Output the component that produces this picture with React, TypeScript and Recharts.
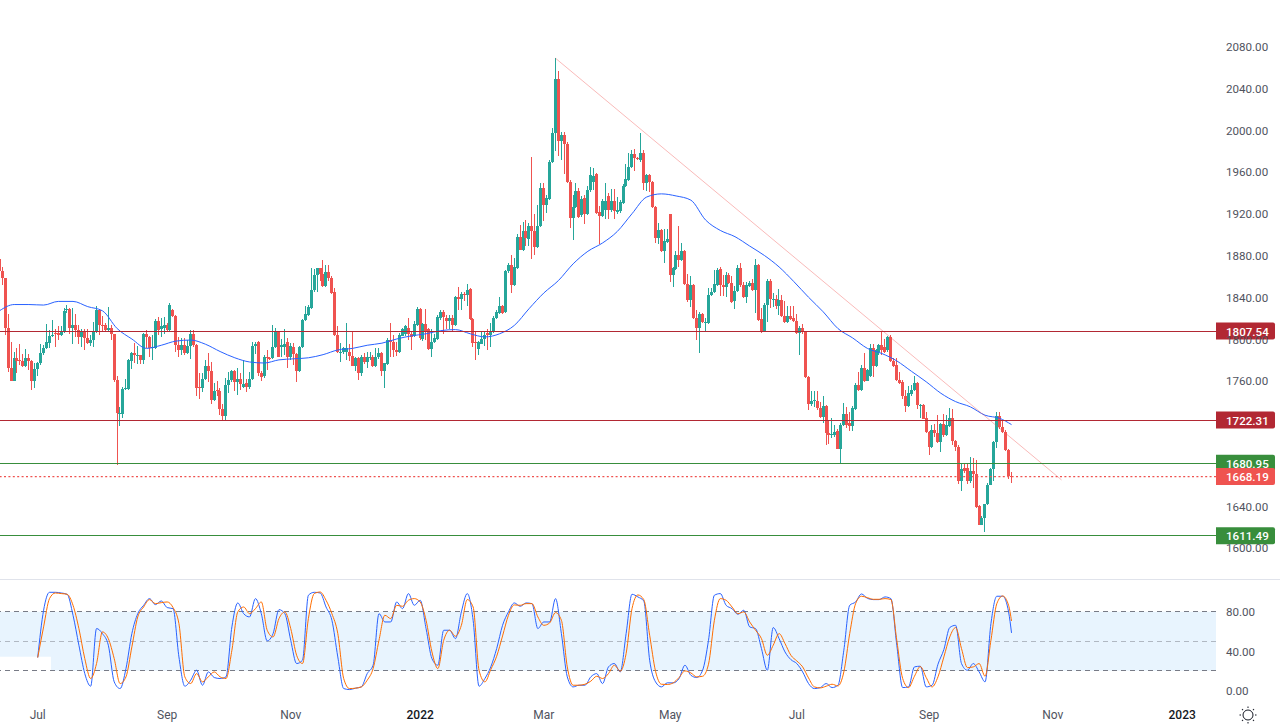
import { Bar, ComposedChart, Line, ReferenceArea, ReferenceLine, XAxis, YAxis } from "recharts";

// daily candles
const opens = [
  1877,1865,1858,1811,1772,1760,1782,1780,1779,1774,
  1782,1779,1760,1771,1777,1787,1791,1796,1803,1806,
  1806,1804,1807,1828,1829,1811,1813,1809,1802,1807,
  1801,1796,1799,1807,1828,1813,1813,1809,1811,1805,
  1761,1729,1728,1752,1752,1779,1787,1785,1785,1780,
  1805,1802,1791,1791,1817,1810,1811,1813,1809,1828,
  1822,1794,1789,1794,1787,1793,1805,1794,1754,1753,
  1762,1774,1769,1742,1751,1750,1733,1726,1756,1761,
  1769,1759,1762,1754,1758,1754,1762,1793,1797,1767,
  1765,1783,1782,1782,1792,1807,1792,1792,1797,1783,
  1792,1786,1769,1792,1818,1823,1830,1847,1861,1868,
  1862,1851,1864,1858,1845,1804,1788,1788,1788,1788,
  1784,1774,1782,1767,1783,1778,1783,1783,1774,1783,
  1787,1769,1776,1799,1797,1789,1788,1803,1805,1811,
  1805,1803,1813,1829,1800,1814,1810,1790,1797,1800,
  1820,1826,1820,1817,1820,1813,1840,1838,1843,1842,
  1848,1819,1797,1790,1795,1800,1806,1804,1807,1820,
  1825,1832,1826,1865,1871,1852,1868,1898,1885,1903,
  1896,1908,1903,1888,1908,1945,1928,1934,1970,1997,
  2049,1990,1995,1987,1950,1916,1926,1942,1919,1935,
  1920,1943,1950,1958,1922,1918,1924,1937,1924,1932,
  1922,1923,1930,1947,1952,1965,1977,1973,1971,1978,
  1949,1957,1950,1926,1897,1904,1884,1893,1920,1861,
  1867,1880,1876,1884,1853,1837,1852,1820,1811,1824,
  1815,1815,1842,1845,1852,1867,1852,1850,1861,1854,
  1836,1846,1868,1852,1840,1851,1854,1847,1871,1819,
  1808,1833,1856,1838,1838,1832,1837,1822,1816,1822,
  1820,1817,1806,1811,1807,1764,1738,1741,1741,1734,
  1725,1736,1710,1708,1708,1712,1695,1718,1728,1720,
  1717,1733,1756,1751,1772,1760,1765,1791,1774,1788,
  1794,1792,1789,1802,1779,1775,1761,1759,1745,1736,
  1747,1751,1758,1737,1737,1724,1711,1697,1713,1710,
  1701,1719,1708,1717,1724,1702,1697,1664,1676,1676,
  1664,1674,1671,1640,1622,1629,1642,1660,1675,1701,
  1726,1716,1711,1694,1668.5,
];
const highs = [
  1877,1869,1858,1824,1797,1788,1791,1795,1786,1790,
  1786,1780,1777,1778,1795,1794,1814,1809,1818,1810,
  1812,1812,1830,1833,1830,1830,1824,1813,1810,1810,
  1810,1804,1816,1832,1829,1822,1815,1831,1813,1805,
  1765,1735,1754,1762,1781,1788,1796,1793,1785,1806,
  1809,1803,1804,1819,1821,1820,1821,1815,1834,1829,
  1823,1802,1801,1801,1799,1809,1809,1795,1767,1767,
  1780,1787,1778,1758,1760,1753,1738,1763,1768,1770,
  1770,1772,1767,1780,1762,1768,1797,1797,1798,1769,
  1785,1789,1783,1813,1811,1808,1800,1810,1801,1796,
  1796,1787,1793,1819,1832,1833,1868,1867,1868,1868,
  1876,1871,1871,1860,1849,1812,1796,1792,1815,1795,
  1808,1783,1783,1785,1787,1788,1788,1785,1791,1791,
  1788,1777,1801,1815,1804,1797,1806,1811,1813,1820,
  1807,1817,1831,1830,1815,1829,1811,1810,1805,1823,
  1828,1828,1823,1823,1823,1841,1850,1845,1845,1853,
  1849,1820,1807,1798,1808,1807,1810,1815,1822,1828,
  1840,1833,1866,1873,1880,1878,1901,1909,1912,1914,
  1911,1974,1920,1928,1949,1949,1938,1971,2002,2069,
  2057,1998,1998,1989,1952,1938,1949,1945,1937,1938,
  1947,1965,1964,1959,1927,1934,1949,1940,1944,1944,
  1936,1933,1948,1968,1978,1981,1982,1974,1997,1981,
  1958,1958,1951,1927,1911,1905,1905,1905,1920,1869,
  1884,1908,1892,1885,1862,1860,1853,1828,1826,1825,
  1820,1849,1849,1866,1868,1869,1861,1864,1863,1860,
  1851,1871,1873,1855,1855,1856,1857,1877,1872,1830,
  1834,1857,1857,1844,1842,1848,1842,1836,1832,1832,
  1832,1824,1812,1814,1808,1765,1750,1750,1750,1740,
  1745,1737,1721,1724,1718,1714,1720,1739,1735,1730,
  1736,1758,1768,1775,1787,1771,1795,1795,1790,1795,
  1807,1800,1803,1804,1782,1782,1768,1761,1751,1755,
  1756,1765,1759,1738,1738,1730,1712,1718,1719,1727,
  1720,1728,1727,1734,1733,1703,1698,1680,1681,1680,
  1687,1686,1684,1641,1630,1642,1662,1676,1702,1730,
  1730,1722,1713,1695,1673,
];
const lows = [
  1865,1852,1804,1768,1760,1760,1767,1775,1773,1773,
  1770,1751,1753,1765,1775,1785,1790,1791,1802,1792,
  1799,1803,1806,1825,1805,1795,1802,1795,1792,1789,
  1795,1793,1792,1806,1804,1808,1808,1808,1799,1759,
  1679,1717,1724,1751,1751,1771,1777,1776,1776,1776,
  1791,1783,1780,1790,1804,1802,1805,1808,1808,1821,
  1788,1783,1785,1785,1786,1781,1792,1745,1743,1749,
  1761,1759,1738,1741,1745,1727,1722,1722,1748,1759,
  1750,1746,1751,1753,1749,1752,1761,1786,1765,1760,
  1763,1770,1780,1781,1791,1783,1783,1785,1772,1780,
  1775,1759,1768,1791,1817,1822,1829,1845,1845,1856,
  1850,1850,1856,1843,1803,1787,1778,1786,1780,1779,
  1774,1769,1761,1765,1776,1772,1780,1773,1773,1781,
  1765,1753,1775,1783,1783,1784,1787,1803,1803,1799,
  1789,1802,1812,1799,1798,1799,1789,1783,1796,1799,
  1818,1805,1810,1810,1807,1812,1828,1828,1836,1832,
  1818,1792,1780,1785,1795,1793,1789,1792,1806,1819,
  1824,1824,1825,1863,1844,1851,1867,1885,1884,1889,
  1889,1877,1880,1887,1907,1913,1921,1933,1969,1980,
  1975,1971,1958,1949,1906,1895,1925,1916,1917,1910,
  1919,1941,1943,1920,1891,1917,1915,1915,1922,1915,
  1920,1921,1929,1946,1951,1964,1961,1971,1970,1943,
  1942,1941,1925,1892,1891,1883,1873,1892,1855,1850,
  1866,1869,1875,1852,1835,1831,1819,1799,1787,1815,
  1807,1814,1841,1844,1851,1841,1841,1840,1853,1834,
  1829,1845,1850,1839,1834,1850,1846,1825,1817,1806,
  1807,1816,1830,1831,1829,1823,1821,1815,1815,1818,
  1816,1805,1785,1805,1763,1732,1736,1735,1732,1724,
  1720,1698,1699,1705,1706,1695,1681,1717,1715,1712,
  1712,1732,1750,1750,1759,1760,1764,1764,1773,1785,
  1785,1787,1788,1778,1773,1760,1757,1743,1730,1735,
  1745,1750,1733,1724,1723,1710,1689,1696,1706,1700,
  1692,1706,1707,1716,1698,1693,1661,1654,1672,1661,
  1662,1657,1638,1622,1622,1615,1641,1660,1664,1696,
  1714,1710,1693,1666,1662,
];
const closes = [
  1865,1858,1811,1772,1760,1782,1779,1779,1774,1782,
  1779,1760,1771,1777,1787,1791,1797,1803,1804,1805,
  1804,1807,1827,1829,1811,1813,1809,1802,1807,1801,
  1796,1799,1807,1828,1813,1812,1809,1811,1805,1761,
  1729,1729,1752,1753,1780,1787,1785,1785,1780,1805,
  1802,1791,1792,1817,1809,1812,1813,1809,1833,1822,
  1794,1789,1794,1787,1793,1805,1794,1753,1753,1762,
  1774,1769,1742,1750,1750,1733,1726,1756,1761,1769,
  1759,1762,1757,1757,1754,1762,1793,1795,1767,1764,
  1783,1782,1781,1792,1807,1783,1794,1795,1783,1793,
  1786,1769,1792,1818,1824,1831,1847,1861,1868,1862,
  1851,1864,1858,1844,1804,1788,1788,1791,1791,1784,
  1774,1782,1767,1783,1778,1783,1783,1774,1783,1787,
  1769,1777,1799,1797,1789,1788,1804,1810,1812,1805,
  1802,1814,1829,1801,1814,1808,1790,1797,1801,1821,
  1826,1821,1817,1820,1813,1840,1838,1843,1842,1847,
  1819,1796,1796,1797,1800,1804,1804,1807,1820,1826,
  1832,1825,1865,1871,1852,1869,1898,1885,1903,1897,
  1908,1903,1888,1908,1945,1928,1935,1970,1997,2049,
  1990,1995,1987,1950,1916,1926,1942,1917,1934,1920,
  1943,1957,1956,1921,1918,1932,1932,1924,1932,1923,
  1924,1931,1947,1953,1965,1977,1973,1972,1978,1949,
  1957,1950,1926,1897,1904,1884,1894,1896,1861,1868,
  1880,1876,1884,1853,1837,1852,1820,1811,1824,1816,
  1816,1842,1845,1853,1866,1852,1850,1861,1854,1835,
  1846,1868,1852,1840,1852,1854,1847,1871,1818,1808,
  1833,1856,1838,1838,1832,1837,1822,1816,1822,1819,
  1817,1806,1811,1807,1764,1738,1741,1742,1734,1725,
  1736,1710,1708,1709,1711,1695,1718,1728,1718,1717,
  1734,1756,1751,1772,1760,1770,1791,1774,1789,1794,
  1789,1788,1802,1779,1774,1761,1758,1745,1736,1748,
  1751,1758,1737,1737,1723,1711,1697,1713,1710,1701,
  1719,1708,1718,1724,1702,1697,1664,1675,1674,1664,
  1674,1671,1639,1622,1629,1642,1660,1675,1701,1726,
  1716,1711,1694,1668.5,1668.19,
];

// moving average, one reading every 5 candles plus the last one
const maValues = [
  1827,1833,1833,1832.5,1836,1836,1831,1827,1810,1800,
  1791,1794,1798,1799,1795,1788,1782,1778,1777,1780,
  1781,1782,1785,1789.5,1791,1794,1796,1800,1803,1805,
  1808,1809,1805,1802,1805,1813,1829,1844,1856,1872,
  1884,1892,1903,1920,1936,1939,1937,1933,1914,1904,
  1898,1889,1880,1869,1855,1840,1826,1810,1801,1791,
  1786,1779,1769,1759,1748,1740,1735,1727,1724,1718,
];

// stochastic %K and %D, one reading every 2 candles from candle 13, plus the last one
const stochK = [
  33.5,81.5,99.7,99.7,99,97.7,76.4,46,17.2,4.4,
  62.9,57.8,46,8.8,2,22.3,57.8,78,86.5,93.3,
  87.2,90.9,84.2,83.1,34.1,4.4,10.5,20.6,5.4,18.9,
  13.2,12.2,13.9,64.6,88.9,78,74.7,93.3,78,50.4,
  57.8,82.1,78,51,27.4,30.8,96.7,99.7,99,84.8,
  71.3,34.1,2,1,2.4,3.7,17.2,25.7,78,69.6,
  69.6,89.9,83.1,98.4,86.5,91.6,
  62.9,32.4,25.7,61.2,61.2,52.7,79.8,98.4,71.3,4.4,
  12.2,24,42.6,66.2,79.8,88.9,85.5,88.9,88.2,62.9,
  69.6,69.6,93.3,57.8,13.9,3.7,5.4,5.4,13.9,17.2,
  7.1,24,27.4,18.9,57.8,97.7,95,90.9,30.8,8.8,
  3.7,7.8,7.8,12.2,25.7,15.5,13.2,20.6,51,96.7,
  98.4,86.5,83.1,77.4,81.5,64.6,62.9,42.6,20.6,63.9,
  52.7,39.2,31.4,27.4,18.9,7.1,2,3,7.1,3,
  5.4,
  40.9,86.5,89.9,98,93.6,92.3,92.3,95,93.3,46,
  3,3.7,24,24.7,3.7,5.4,26.7,41.6,63.9,66.2,
  27.4,20.6,27.4,18.9,8.8,67.9,95.7,95.7,79.8,58.5,
];
const stochD = [
  33.5,64.6,93.3,99,98.4,97.7,86.5,62.9,32.4,12.2,
  27.4,59.5,52.7,32.4,7.1,13.9,44.3,74.7,84.8,92.3,
  88.2,89.2,89.9,84.2,67.9,13.9,7.1,17.2,8.8,13.9,
  18.9,13.9,12.2,40.9,79.8,84.8,78,83.1,89.9,61.2,
  54.4,73,79.8,62.9,35.8,27.4,73,98.4,100,91.6,
  78,57.8,12.2,2,2.4,3.7,10.5,22.3,51,76.4,
  73,86.5,85.5,91.6,93.3,89.9,
  71.3,39.2,22.3,51,61.2,55.1,66.2,92.3,84.8,20.6,
  8.8,21.3,34.8,55.4,76.4,86.9,86.5,88.2,88.2,74.7,
  66.2,68.6,79.1,71.3,24,5.4,5.4,6.4,9.5,14.5,
  12.2,17.2,25.7,19.6,37.5,83.1,97,92.3,56.1,19.6,
  6.4,6.1,7.8,13.2,19.9,17.9,13.9,14.5,26.7,71.3,
  93.3,91.6,84.8,78,79.8,69.6,61.2,52.7,35.8,46,
  57.8,47.7,35.8,30.1,24,12.8,3.7,2.7,4.4,6.4,
  4.7,
  18.9,57.8,88.2,95.7,94.3,92.6,92.6,93.3,92.3,51,
  12.2,3,14.5,24.3,13.2,3.7,13.9,34.1,54.4,63.9,
  42.6,23.3,24,27.4,14.5,51,88.2,96,86.5,70.6,
];

const priceTicks = [1600,1640,1760,1800,1840,1880,1920,1960,2000,2040,2080];
const stochTicks = [0,40,80];
const monthSlots = [13,57,99,143,185,228,271,316,358,402];
const monthNames = ["Jul","Sep","Nov","2022","Mar","May","Jul","Sep","Nov","2023"];
const yearNames = ["2022","2023"];

const resistanceHigh = 1807.54;
const resistanceLow = 1722.31;
const supportHigh = 1680.95;
const supportLow = 1611.49;
const lastPrice = 1668.19;
const trendStart = { x: 189, y: 2068.9 };
const trendEnd = { x: 361, y: 1665 };

const slotCount = 414;
const lastCandle = closes.length - 1;

const maAt = (i: number) => {
  if (i === lastCandle) return maValues[maValues.length - 1];
  return i < lastCandle && i % 5 === 0 ? maValues[i / 5] : null;
};
const stochAt = (values: number[], i: number) => {
  if (i === lastCandle) return values[values.length - 1];
  return i >= 13 && i < lastCandle && (i - 13) % 2 === 0 ? values[(i - 13) / 2] : null;
};

const rows = Array.from({ length: slotCount }, (_, i) => ({
  slot: i,
  open: i <= lastCandle ? opens[i] : null,
  high: i <= lastCandle ? highs[i] : null,
  low: i <= lastCandle ? lows[i] : null,
  close: i <= lastCandle ? closes[i] : null,
  range: i <= lastCandle ? [lows[i], highs[i]] : null,
  ma: maAt(i),
  k: stochAt(stochK, i),
  d: stochAt(stochD, i),
}));

const NoDot = () => null;

function Candle(props: any) {
  const { x, y, width, height, payload } = props;
  if (!payload || payload.open == null || !(height >= 0)) return null;
  const { open, high, low, close } = payload;
  const color = close >= open ? "#26a69a" : "#ef5350";
  const perUnit = high > low ? height / (high - low) : 0;
  const center = Math.floor(x + width / 2);
  const bodyTop = y + (high - Math.max(open, close)) * perUnit;
  const bodyHeight = Math.max(1, Math.abs(open - close) * perUnit);
  return (
    <g shapeRendering="crispEdges">
      <rect x={center} y={y} width={1} height={height} fill={color} />
      <rect x={center - 1} y={bodyTop} width={3} height={bodyHeight} fill={color} />
    </g>
  );
}

function PriceTag({ viewBox, fill, value }: any) {
  if (!viewBox) return null;
  const left = viewBox.x + viewBox.width;
  const y = viewBox.y;
  return (
    <g>
      <path
        d={`M${left} ${y - 8.5} h57 a2 2 0 0 1 2 2 v13 a2 2 0 0 1 -2 2 h-57 z`}
        fill={fill}
      />
      <text x={left + 10} y={y + 4.5} fill="#ffffff" fontSize={11.6} fontWeight={500}>
        {value.toFixed(2)}
      </text>
    </g>
  );
}

function MonthTick({ x, y, payload }: any) {
  const name = monthNames[monthSlots.indexOf(payload.value)];
  const isYear = yearNames.includes(name);
  return (
    <text
      x={x}
      y={y}
      textAnchor="middle"
      dominantBaseline="central"
      fontSize={12}
      fontWeight={isYear ? 500 : 400}
      fill={isYear ? "#131722" : "#50535e"}
    >
      {name}
    </text>
  );
}

function SunIcon() {
  const rays = [0, 45, 90, 135, 180, 225, 270, 315];
  return (
    <svg
      width={18}
      height={18}
      viewBox="0 0 18 18"
      style={{ position: "absolute", left: 1239, top: 706 }}
    >
      <circle cx={9} cy={9} r={5} fill="none" stroke="#131722" strokeWidth={1} />
      {rays.map((angle) => (
        <line
          key={angle}
          x1={9}
          y1={2}
          x2={9}
          y2={0.5}
          stroke="#131722"
          strokeWidth={1}
          transform={`rotate(${angle} 9 9)`}
        />
      ))}
    </svg>
  );
}

export default function App() {
  return (
    <div
      style={{
        position: "absolute",
        left: 0,
        top: 0,
        width: 1280,
        height: 728,
        overflow: "hidden",
        background: "#ffffff",
        fontFamily: "Roboto, sans-serif",
      }}
    >
      <div style={{ position: "absolute", left: -2, top: 0 }}>
        <ComposedChart
          width={1282}
          height={578}
          data={rows}
          margin={{ top: 0, right: 0, bottom: 0, left: 0 }}
          barCategoryGap={0}
        >
          <XAxis dataKey="slot" hide />
          <YAxis
            orientation="right"
            width={64}
            domain={[1571.07, 2124.7]}
            ticks={priceTicks}
            tickFormatter={(v: number) => v.toFixed(2)}
            axisLine={false}
            tickLine={false}
            tickSize={0}
            tickMargin={10}
            tick={{ fontSize: 11.6, fill: "#50535e", dy: 0.4 }}
            interval={0}
          />
          <Bar dataKey="range" barSize={3} shape={<Candle />} isAnimationActive={false} />
          <Line
            dataKey="ma"
            type="monotone"
            connectNulls
            dot={NoDot}
            activeDot={false}
            stroke="#2962ff"
            strokeWidth={1}
            isAnimationActive={false}
          />
          <ReferenceLine
            segment={[trendStart, trendEnd]}
            stroke="#ef5350"
            strokeOpacity={0.4}
            strokeWidth={1}
          />
          <ReferenceLine y={resistanceHigh} stroke="#b22833" strokeWidth={1} shapeRendering="crispEdges" label={<PriceTag fill="#b22833" value={resistanceHigh} />} />
          <ReferenceLine y={resistanceLow} stroke="#b22833" strokeWidth={1} shapeRendering="crispEdges" label={<PriceTag fill="#b22833" value={resistanceLow} />} />
          <ReferenceLine y={supportHigh} stroke="#388e3c" strokeWidth={1} shapeRendering="crispEdges" label={<PriceTag fill="#388e3c" value={supportHigh} />} />
          <ReferenceLine y={lastPrice} stroke="#ef5350" strokeWidth={1.2} strokeDasharray="2 2.4" label={<PriceTag fill="#ef5350" value={lastPrice} />} />
          <ReferenceLine y={supportLow} stroke="#388e3c" strokeWidth={1} shapeRendering="crispEdges" label={<PriceTag fill="#388e3c" value={supportLow} />} />
        </ComposedChart>
      </div>

      <div style={{ position: "absolute", left: 0, top: 579, width: 1280, height: 1, background: "#e0e3eb" }} />

      <div style={{ position: "absolute", left: -2, top: 579 }}>
        <ComposedChart
          width={1282}
          height={149}
          data={rows}
          margin={{ top: 0, right: 0, bottom: 0, left: 0 }}
        >
          <XAxis
            dataKey="slot"
            scale="band"
            ticks={monthSlots}
            interval={0}
            height={28}
            axisLine={false}
            tickLine={false}
            tickSize={0}
            tickMargin={15}
            tick={<MonthTick />}
          />
          <YAxis
            orientation="right"
            width={64}
            domain={[-9.6, 113.2]}
            ticks={stochTicks}
            tickFormatter={(v: number) => v.toFixed(2)}
            axisLine={false}
            tickLine={false}
            tickSize={0}
            tickMargin={10}
            tick={{ fontSize: 11.6, fill: "#50535e", dy: 0.4 }}
            interval={0}
          />
          <ReferenceArea y1={20} y2={80} fill="#2196f3" fillOpacity={0.1} stroke="none" />
          <ReferenceLine y={80} stroke="#787b86" strokeDasharray="5 4" shapeRendering="crispEdges" />
          <ReferenceLine y={50} stroke="#787b86" strokeOpacity={0.5} strokeDasharray="5 4" shapeRendering="crispEdges" />
          <ReferenceLine y={20} stroke="#787b86" strokeDasharray="5 4" shapeRendering="crispEdges" />
          <ReferenceArea x2={17} y1={18.8} y2={34.2} fill="#ffffff" fillOpacity={1} stroke="none" />
          <Line dataKey="k" type="monotone" connectNulls dot={NoDot} activeDot={false} stroke="#2962ff" strokeWidth={1} isAnimationActive={false} />
          <Line dataKey="d" type="monotone" connectNulls dot={NoDot} activeDot={false} stroke="#ff6d00" strokeWidth={1} isAnimationActive={false} />
        </ComposedChart>
      </div>

      <SunIcon />
    </div>
  );
}
